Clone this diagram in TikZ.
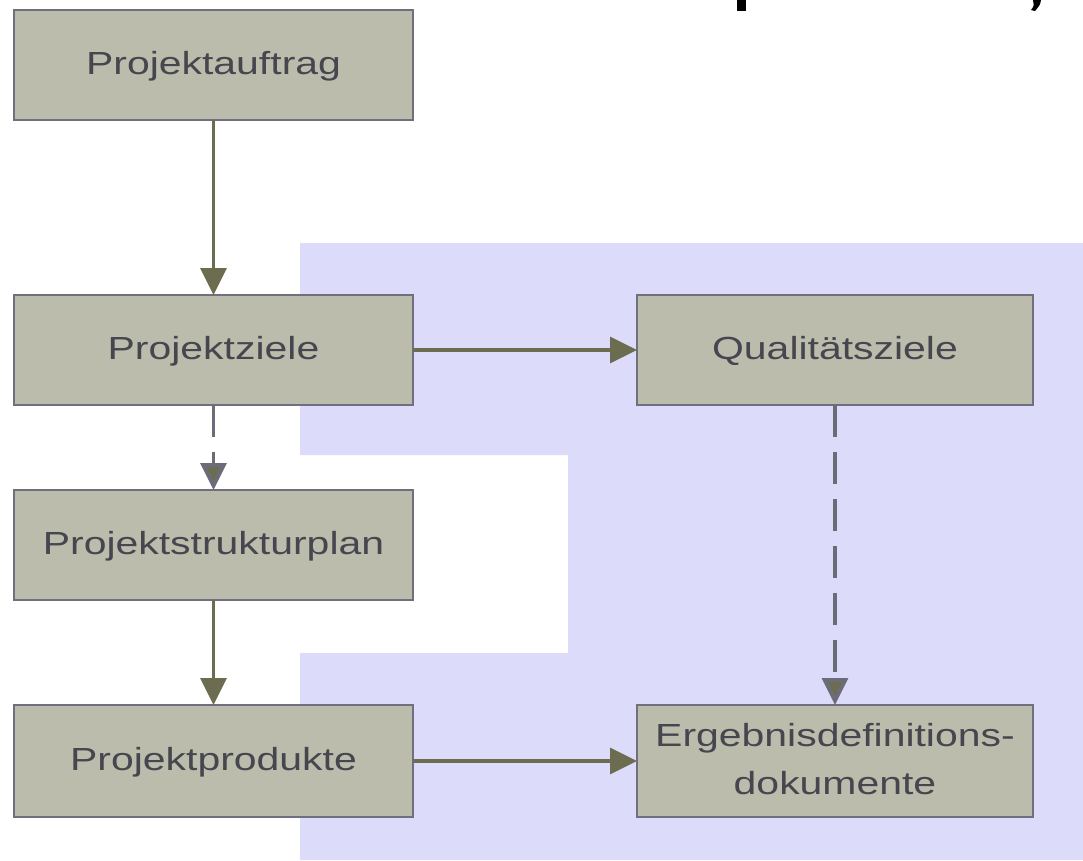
\documentclass[tikz,border=0pt]{standalone}
\usepackage{fontspec}
\setmainfont{Liberation Sans}
\usetikzlibrary{arrows.meta}
\definecolor{bgblue}{HTML}{DCDCFA}
\definecolor{boxfill}{HTML}{BCBCAD}
\definecolor{boxline}{HTML}{6F6F80}
\definecolor{arrcol}{HTML}{6C6C50}
\definecolor{dashcol}{HTML}{6C6C78}
\definecolor{txtcol}{HTML}{46464F}
\newcommand{\boxtext}[1]{\scalebox{1.28}[1]{\begin{tabular}{@{}c@{}}#1\end{tabular}}}
\begin{document}
\begin{tikzpicture}[x=0.03cm,y=-0.03cm,
  stepbox/.style={draw=boxline,fill=boxfill,line width=2.4pt,inner sep=0pt,outer sep=0pt,
    minimum width=11.97cm,minimum height=3.3cm,text=txtcol,
    font=\fontsize{27.3pt}{41pt}\selectfont},
  arr/.style={draw=arrcol,line width=3.4pt,-{Triangle[length=23pt,width=22pt,fill=arrcol]}},
  darr/.style={arr,draw=dashcol,dash pattern=on 0.96cm off 0.45cm}]
\useasboundingbox (0,0) rectangle (1083,860);
\fill[white] (0,0) rectangle (1083,860);
% blue background region
\fill[bgblue] (300,243) -- (1083,243) -- (1083,860) -- (300,860) -- (300,653)
  -- (568,653) -- (568,455) -- (300,455) -- cycle;
% cut-off fragments at the top
\fill[black] (737,0) rectangle (746,11);
\fill[black] (1033,0) -- (1041,0) .. controls (1040,5) .. (1035,11) -- (1031,10) .. controls (1034,6) .. cycle;
% boxes
\node[stepbox] (A) at (213.5,65) {\boxtext{Projektauftrag}};
\node[stepbox] (Z) at (213.5,350) {\boxtext{Projektziele}};
\node[stepbox] (S) at (213.5,545) {\boxtext{Projektstrukturplan}};
\node[stepbox,minimum height=3.36cm] (P) at (213.5,761) {\boxtext{Projektprodukte}};
\node[stepbox,minimum width=11.88cm] (Q) at (835,350) {\boxtext{Qualitätsziele}};
\node[stepbox,minimum width=11.88cm,minimum height=3.36cm] (E) at (835,761) {\boxtext{Ergebnisdefinitions-\\dokumente}};
% connectors
\draw[arr] (A.south) -- (Z.north);
\draw[darr] (Z.south) -- (S.north);
\draw[arr] (S.south) -- (P.north);
\draw[arr] (Z.east) -- (Q.west);
\draw[darr] (Q.south) -- (E.north);
\draw[arr] (P.east) -- (E.west);
\end{tikzpicture}
\end{document}
